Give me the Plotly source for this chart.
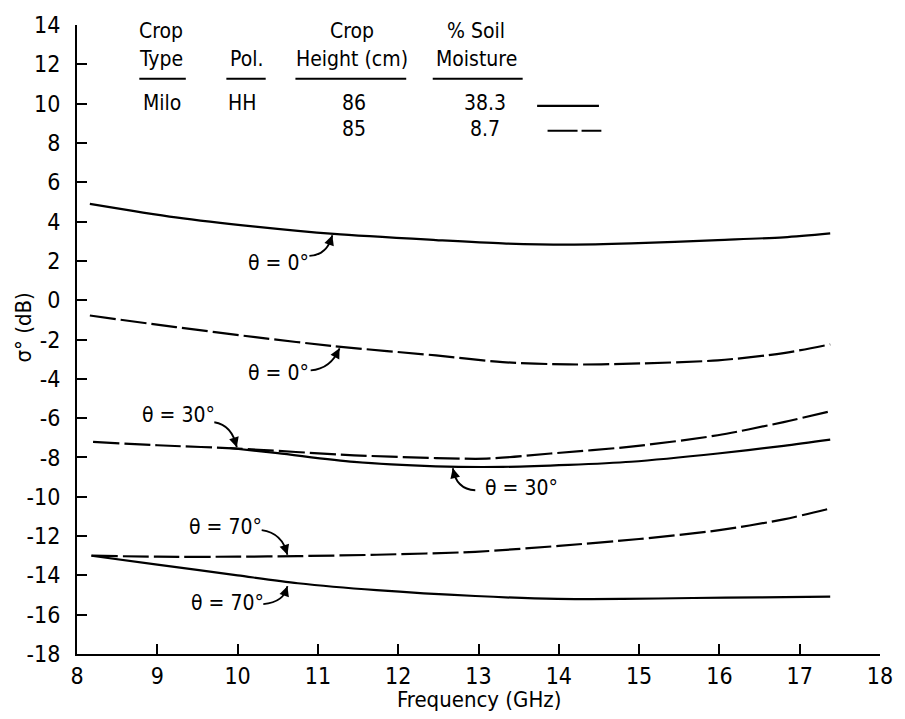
import plotly.graph_objects as go

# Backscatter of milo (HH polarisation) versus frequency, two soil moisture levels
freq_wet_0 = [8.16, 9.23, 10.22, 11.2, 12.47, 13.3, 14.12, 14.9, 15.98, 16.8, 17.38]
sigma_wet_0 = [4.9, 4.21, 3.74, 3.37, 3.06, 2.89, 2.83, 2.89, 3.06, 3.2, 3.4]

freq_dry_0 = [8.16, 9.23, 10.22, 11.2, 12.47, 13.3, 14.12, 14.9, 15.98, 16.8, 17.38]
sigma_dry_0 = [-0.78, -1.37, -1.88, -2.34, -2.81, -3.15, -3.27, -3.23, -3.06, -2.69, -2.25]

freq_dry_30 = [8.2, 9.0, 10.0, 11.45, 12.47, 13.1, 13.9, 14.9, 15.98, 16.8, 17.38]
sigma_dry_30 = [-7.21, -7.38, -7.55, -7.89, -8.03, -8.06, -7.8, -7.45, -6.87, -6.2, -5.65]

freq_wet_30 = [9.9, 10.5, 11.45, 12.47, 13.3, 14.12, 14.9, 15.98, 16.8, 17.38]
sigma_wet_30 = [-7.52, -7.78, -8.23, -8.45, -8.48, -8.38, -8.22, -7.8, -7.41, -7.09]

freq_dry_70 = [8.18, 9.0, 10.0, 10.75, 11.73, 12.96, 14.0, 15.0, 16.0, 16.8, 17.38]
sigma_dry_70 = [-13.0, -13.05, -13.05, -13.02, -12.95, -12.8, -12.5, -12.15, -11.7, -11.15, -10.6]

freq_wet_70 = [8.18, 9.0, 10.0, 10.75, 11.73, 12.96, 13.98, 14.8, 15.67, 16.5, 17.38]
sigma_wet_70 = [-13.0, -13.45, -14.0, -14.4, -14.75, -15.05, -15.2, -15.2, -15.15, -15.12, -15.08]

x_ticks = [8, 9, 10, 11, 12, 13, 14, 15, 16, 17, 18]
y_ticks = [14, 12, 10, 8, 6, 4, 2, 0, -2, -4, -6, -8, -10, -12, -14, -16, -18]

header_rows = [["Crop", "", "Crop", "% Soil"],
               ["Type", "Pol.", "Height (cm)", "Moisture"]]
table_rows = [["Milo", "HH", "86", "38.3"],
              ["", "", "85", "8.7"]]

FONT = "DejaVu Sans Condensed, Liberation Sans Narrow, Arial Narrow, sans-serif"
INK = "black"
DASH = "26px,5px"
LW = 2.2

fig = go.Figure()

curves = [
    (freq_wet_0, sigma_wet_0, "solid"),
    (freq_dry_0, sigma_dry_0, DASH),
    (freq_dry_30, sigma_dry_30, DASH),
    (freq_wet_30, sigma_wet_30, "solid"),
    (freq_dry_70, sigma_dry_70, DASH),
    (freq_wet_70, sigma_wet_70, "solid"),
]
for fx, fy, dash in curves:
    fig.add_trace(go.Scatter(
        x=fx, y=fy, mode="lines",
        line=dict(color=INK, width=LW, dash=dash, shape="spline", smoothing=0.8),
        showlegend=False, hoverinfo="skip"))

annotations = []
shapes = []

# Key table above the curves
col_x = [9.05, 10.11, 11.43, 12.97]
header_y = [13.70, 12.27]
for r, row in enumerate(header_rows):
    for c, txt in enumerate(row):
        if txt:
            annotations.append(dict(x=col_x[c], y=header_y[r], text=txt, showarrow=False,
                                    xanchor="center", yanchor="middle",
                                    font=dict(family=FONT, size=21, color=INK)))
underlines = [(8.776, 9.355), (9.86, 10.35), (10.72, 12.10), (12.43, 13.55)]
for x0, x1 in underlines:
    shapes.append(dict(type="line", x0=x0, x1=x1, y0=11.26, y1=11.26,
                       line=dict(color=INK, width=2)))
row_x = [9.06, 10.06, 11.45, 13.08]
row_y = [10.05, 8.72]
for r, row in enumerate(table_rows):
    for c, txt in enumerate(row):
        if txt:
            annotations.append(dict(x=row_x[c], y=row_y[r], text=txt, showarrow=False,
                                    xanchor="center", yanchor="middle",
                                    font=dict(family=FONT, size=21, color=INK)))
shapes.append(dict(type="line", x0=13.73, x1=14.50, y0=9.89, y1=9.89,
                   line=dict(color=INK, width=LW)))
shapes.append(dict(type="line", x0=13.86, x1=14.53, y0=8.62, y1=8.62,
                   line=dict(color=INK, width=LW, dash="30px,4px")))

# Incidence-angle labels with curved leader arrows
labels = [
    ("θ = 0°", 10.10, 1.91, (10.894, 2.25), (11.12, 2.30), (11.18, 3.3)),
    ("θ = 0°", 10.10, -3.72, (10.91, -3.57), (11.16, -3.50), (11.27, -2.45)),
    ("θ = 30°", 8.78, -5.86, (9.71, -6.21), (9.93, -6.35), (9.99, -7.48)),
    ("θ = 30°", 13.06, -9.57, (12.96, -9.67), (12.72, -9.62), (12.68, -8.55)),
    ("θ = 70°", 9.37, -11.55, (10.30, -11.70), (10.56, -11.85), (10.62, -12.95)),
    ("θ = 70°", 9.40, -15.41, (10.32, -15.46), (10.58, -15.38), (10.62, -14.55)),
]


def bez(p0, c, p1, t):
    return ((1 - t) ** 2 * p0[0] + 2 * (1 - t) * t * c[0] + t ** 2 * p1[0],
            (1 - t) ** 2 * p0[1] + 2 * (1 - t) * t * c[1] + t ** 2 * p1[1])


for txt, tx, ty, p0, c, p1 in labels:
    annotations.append(dict(x=tx, y=ty, text=txt, showarrow=False,
                            xanchor="left", yanchor="middle",
                            font=dict(family=FONT, size=21, color=INK)))
    shapes.append(dict(type="path",
                       path=f"M {p0[0]},{p0[1]} Q {c[0]},{c[1]} {p1[0]},{p1[1]}",
                       line=dict(color=INK, width=1.8)))
    bx, by = bez(p0, c, p1, 0.8)
    annotations.append(dict(x=p1[0], y=p1[1], ax=bx, ay=by, axref="x", ayref="y",
                            text="", showarrow=True, arrowhead=2, arrowsize=1.1,
                            arrowwidth=1.8, arrowcolor=INK, standoff=0))

# Axis titles
annotations.append(dict(x=0.5, y=-0.072, xref="paper", yref="paper",
                        text="Frequency (GHz)", showarrow=False,
                        xanchor="center", yanchor="middle",
                        font=dict(family=FONT, size=22, color=INK)))
annotations.append(dict(x=-0.066, y=0.519, xref="paper", yref="paper",
                        text="σ° (dB)", showarrow=False, textangle=-90,
                        xanchor="center", yanchor="middle",
                        font=dict(family=FONT, size=22, color=INK)))

fig.update_layout(
    width=905, height=719,
    margin=dict(l=77, r=16, t=24, b=65),
    paper_bgcolor="white", plot_bgcolor="white",
    annotations=annotations, shapes=shapes,
    showlegend=False,
)
fig.update_xaxes(
    range=[8, 18], tickvals=x_ticks, ticktext=[str(v) for v in x_ticks],
    showgrid=False, zeroline=False, showline=True, linecolor=INK, linewidth=2,
    ticks="inside", ticklen=10, tickwidth=2, tickcolor=INK,
    tickfont=dict(family=FONT, size=23, color=INK), ticklabelstandoff=0,
)
fig.update_yaxes(
    range=[-18, 14], tickvals=y_ticks, ticktext=[str(v) for v in y_ticks],
    showgrid=False, zeroline=False, showline=True, linecolor=INK, linewidth=2,
    ticks="inside", ticklen=10, tickwidth=2, tickcolor=INK,
    tickfont=dict(family=FONT, size=23, color=INK), ticklabelstandoff=10,
)

fig.write_html("out.html")
